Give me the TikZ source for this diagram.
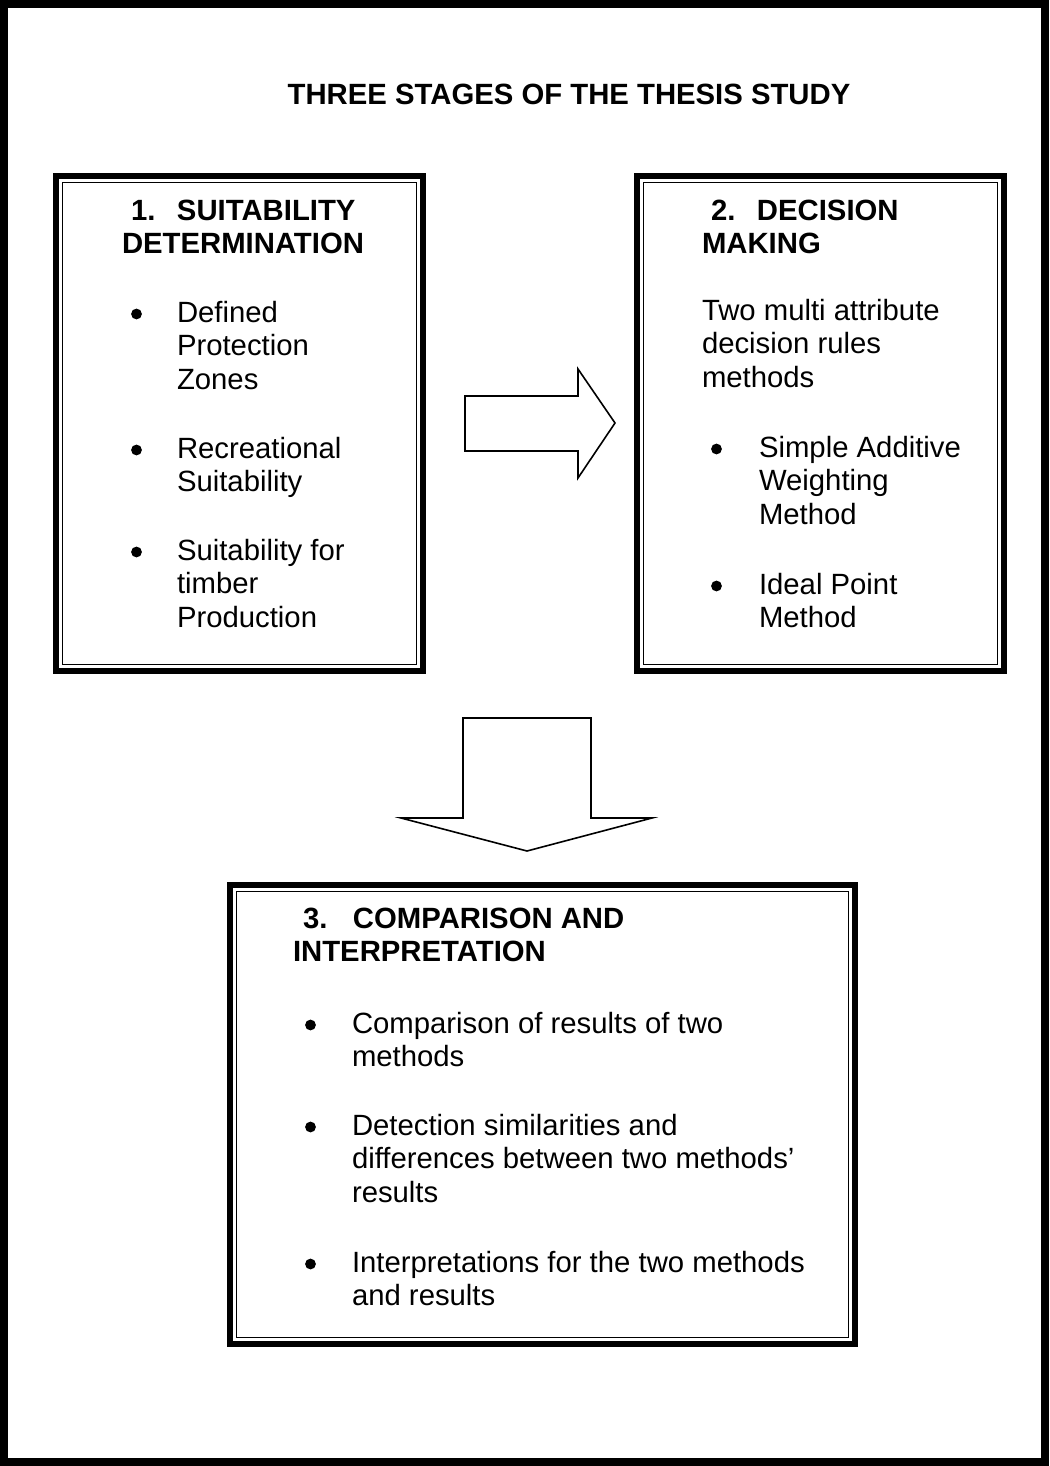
\documentclass[tikz,border=0pt]{standalone}
\usepackage{fontspec}
\setmainfont{Liberation Sans}[Ligatures=NoCommon]
\usetikzlibrary{calc}
\begin{document}
\begin{tikzpicture}[x=0.5pt,y=-0.5pt,
  % multi-line text: the base anchor sits on the last line's baseline
  bodytext/.style={inner sep=0pt, outer sep=0pt, anchor=base west, align=left,
    font={\fontsize{14.65}{16.85}\selectfont}},
  headtext/.style={bodytext, font={\fontsize{14.65}{16.85}\selectfont\bfseries}},
  bulletdot/.style={circle, fill=black, inner sep=0pt, minimum size=5.4pt},
  stagebox/.style={draw, line width=3pt, inner sep=0pt, outer sep=0pt},
  innerframe/.style={line width=0.8pt},
  blockarrow/.style={draw, line width=0.8pt, line join=miter}]

% page size and outer frame
\useasboundingbox (0,0) rectangle (1049,1466);
\draw[line width=4pt] (4,4) rectangle (1045,1462);

% title
\node[headtext, anchor=base] (title) at (569,105) {THREE STAGES OF THE THESIS STUDY};

% stage frames: heavy outer line with a thin line inside
\node[stagebox, minimum width=183.5pt, minimum height=247.5pt] (s1) at (239.5,423.5) {};
\node[stagebox, minimum width=183.5pt, minimum height=247.5pt] (s2) at (820.5,423.5) {};
\node[stagebox, minimum width=312.5pt, minimum height=229.5pt] (s3) at (542.5,1114.5) {};
\foreach \b in {s1,s2,s3}
  \draw[innerframe] ($(\b.north west)+(6.5,6.5)$) rectangle ($(\b.south east)+(-6.5,-6.5)$);

% block arrows between the stages
\draw[blockarrow] (465,396) -- (578,396) -- (578,369) -- (615,423) -- (578,478)
  -- (578,451) -- (465,451) -- cycle;
\draw[blockarrow] (463,718) -- (591,718) -- (591,818) -- (652,818) -- (527,851)
  -- (401,818) -- (463,818) -- cycle;

% stage 1
\node[headtext] (h1) at (122,253.7) {\hspace*{4.5pt}\makebox[23pt][l]{1.}SUITABILITY\\DETERMINATION};
\node[bulletdot] (d11) at (136.5,314) {};
\node[bodytext] (p11) at (177,389.4) {Defined\\Protection\\Zones};
\node[bulletdot] (d12) at (136.5,450) {};
\node[bodytext] (p12) at (177,491.7) {Recreational\\Suitability};
\node[bulletdot] (d13) at (136.5,552) {};
\node[bodytext] (p13) at (177,627.4) {Suitability for\\timber\\Production};

% stage 2
\node[headtext] (h2) at (702,253.7) {\hspace*{4.5pt}\makebox[23pt][l]{2.}DECISION\\MAKING};
\node[bodytext] (p20) at (702,387.4) {Two multi attribute\\decision rules\\methods};
\node[bulletdot] (d21) at (716.5,449) {};
\node[bodytext] (p21) at (759,524.4) {Simple Additive\\Weighting\\Method};
\node[bulletdot] (d22) at (716.5,586) {};
\node[bodytext] (p22) at (759,627.7) {Ideal Point\\Method};

% stage 3
\node[headtext] (h3) at (293,961.7) {\hspace*{5pt}\makebox[25pt][l]{3.}COMPARISON AND\\INTERPRETATION};
\node[bulletdot] (d31) at (310.5,1025) {};
\node[bodytext] (p31) at (352,1066.7) {Comparison of results of two\\methods};
\node[bulletdot] (d32) at (310.5,1127) {};
\node[bodytext] (p32) at (352,1202.4) {Detection similarities and\\differences between two methods’\\results};
\node[bulletdot] (d33) at (310.5,1264) {};
\node[bodytext] (p33) at (352,1305.7) {Interpretations for the two methods\\and results};
\end{tikzpicture}
\end{document}
